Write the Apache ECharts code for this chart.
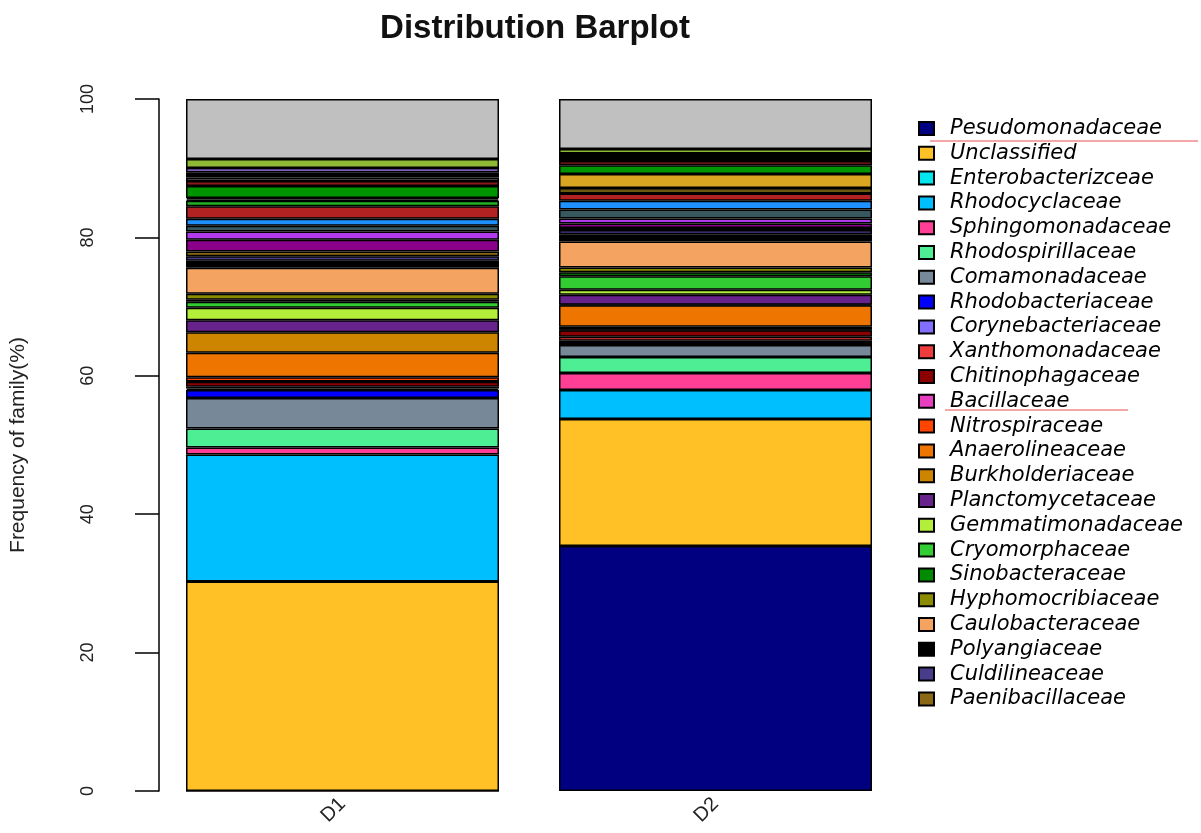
<!DOCTYPE html>
<html>
<head>
<meta charset="utf-8">
<title>Distribution Barplot</title>
<script src="https://cdn.jsdelivr.net/npm/echarts@6/dist/echarts.min.js"></script>
<style>
  html, body { margin: 0; padding: 0; background: #ffffff; }
  #chart { width: 1201px; height: 833px; }
</style>
</head>
<body>
<div id="chart"></div>
<script>
// ---- Data (bottom of stack first) ----
const categories = ['D1', 'D2'];

const legendFamilies = [
  'Pesudomonadaceae', 'Unclassified', 'Enterobacterizceae', 'Rhodocyclaceae',
  'Sphingomonadaceae', 'Rhodospirillaceae', 'Comamonadaceae', 'Rhodobacteriaceae',
  'Corynebacteriaceae', 'Xanthomonadaceae', 'Chitinophagaceae', 'Bacillaceae',
  'Nitrospiraceae', 'Anaerolineaceae', 'Burkholderiaceae', 'Planctomycetaceae',
  'Gemmatimonadaceae', 'Cryomorphaceae', 'Sinobacteraceae', 'Hyphomocribiaceae',
  'Caulobacteraceae', 'Polyangiaceae', 'Culdilineaceae', 'Paenibacillaceae'
];

const extraFamilies = [
  'Other family 1', 'Other family 2', 'Other family 3', 'Other family 4',
  'Other family 5', 'Other family 6', 'Other family 7', 'Other family 8',
  'Other family 9', 'Other family 10', 'Other family 11', 'Other family 12',
  'Other family 13', 'Other family 14', 'Others'
];

const d1Values = [
  0, 30.27, 0, 18.36, 1.01, 2.74, 4.41, 1.16,
  0.2, 0.25, 0.73, 0.05, 0.6, 3.54, 2.96, 1.73,
  1.81, 0.87, 0.3, 0.85, 3.76, 1.01, 0.65, 0.72,
  1.67, 1.22, 0.8, 1.01, 1.81, 0.79, 0.2, 0.2,
  1.76, 0.72, 0.51, 0.75, 0.62, 1.3, 8.66
];

const d2Values = [
  35.4, 18.36, 0, 4.19, 2.45, 2.32, 1.73, 0.3,
  0.3, 0.6, 0.94, 0.05, 0.45, 3.11, 0.05, 1.47,
  0.72, 1.95, 0.58, 0.68, 3.77, 1.04, 0.61, 0.3,
  0.65, 0.72, 1.3, 1.26, 1.06, 0, 0.79, 2.02,
  1.26, 0.62, 0, 1.09, 0, 0.65, 7.21
];

const yTicks = [0, 20, 40, 60, 80, 100];

// ---- Styles ----
const familyColors = [
  '#000080', '#FFC125', '#00E5EE', '#00BFFF', '#FF3E96', '#4EEE94', '#778899', '#0000FF',
  '#836FFF', '#EE3B3B', '#8B0000', '#E83EC0', '#FF4500', '#EE7600', '#CD8500', '#68228B',
  '#B3EE3A', '#32CD32', '#008B00', '#8B8B00', '#F4A460', '#000000', '#483D8B', '#8B6914',
  '#8B008B', '#B23AEE', '#36585E', '#1E90FF', '#B22222', '#22B022', '#6B5A10', '#DAA520',
  '#009400', '#8B1A1A', '#8C8C8C', '#000000', '#AB82FF', '#8FB935', '#C0C0C0'
];

const allFamilies = legendFamilies.concat(extraFamilies);

const series = allFamilies.map(function (name, i) {
  return {
    name: name,
    type: 'bar',
    stack: 'total',
    barWidth: 313,
    data: [d1Values[i], d2Values[i]],
    itemStyle: { color: familyColors[i], borderColor: '#000000', borderWidth: 1.5 },
    emphasis: { disabled: true }
  };
});

const chart = echarts.init(document.getElementById('chart'), null, { renderer: 'canvas' });

chart.setOption({
  animation: false,
  backgroundColor: '#ffffff',
  title: {
    text: 'Distribution Barplot',
    left: 530,
    textAlign: 'center',
    top: 7,
    textStyle: { fontFamily: 'Liberation Sans', fontWeight: 'bold', fontSize: 33, color: '#111111' }
  },
  grid: { left: 152, top: 99, width: 750, height: 692, containLabel: false },
  legend: {
    data: legendFamilies,
    orient: 'vertical',
    left: 913,
    top: 113,
    itemWidth: 15,
    itemHeight: 13,
    itemGap: 3.8,
    icon: 'rect',
    selectedMode: false,
    textStyle: {
      fontFamily: 'DejaVu Sans',
      fontStyle: 'italic',
      fontSize: 21,
      lineHeight: 20,
      color: '#000000',
      padding: [0, 0, 0, 11]
    }
  },
  xAxis: {
    type: 'category',
    data: categories,
    axisLine: { show: false },
    axisTick: { show: false },
    axisLabel: {
      rotate: 45,
      margin: 10,
      fontFamily: 'Liberation Sans',
      fontSize: 20,
      color: '#222222'
    }
  },
  yAxis: {
    type: 'value',
    min: yTicks[0],
    max: yTicks[yTicks.length - 1],
    interval: 20,
    offset: -3,
    name: 'Frequency of family(%)',
    nameLocation: 'middle',
    nameGap: 130,
    nameTextStyle: { fontFamily: 'Liberation Sans', fontSize: 21, color: '#222222' },
    axisLine: { show: true, lineStyle: { color: '#000000', width: 1.5 } },
    axisTick: { show: true, inside: false, length: 24, lineStyle: { color: '#000000', width: 1.5 } },
    splitLine: { show: false },
    axisLabel: {
      rotate: 90,
      margin: 62,
      fontFamily: 'Liberation Sans',
      fontSize: 18,
      color: '#222222'
    }
  },
  graphic: [
    { type: 'line', shape: { x1: 930, y1: 141, x2: 1198, y2: 141 }, style: { stroke: '#F08A8A', lineWidth: 1.5 }, silent: true },
    { type: 'line', shape: { x1: 945, y1: 410, x2: 1128, y2: 410 }, style: { stroke: '#F08A8A', lineWidth: 1.5 }, silent: true }
  ],
  series: series
});
</script>
</body>
</html>
